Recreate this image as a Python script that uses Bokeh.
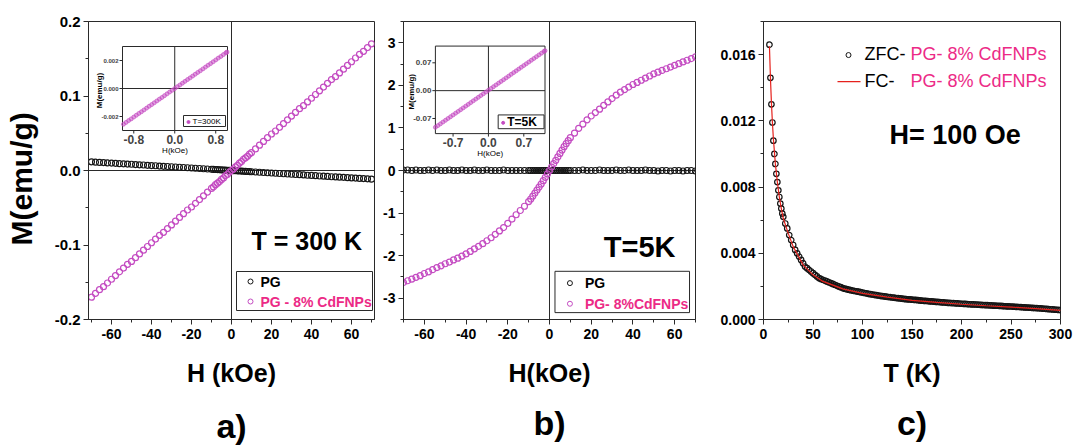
import math
from bokeh.plotting import figure
from bokeh.layouts import row
from bokeh.models import Range1d, FixedTicker, PrintfTickFormatter, Span, Label, LinearAxis
from bokeh.embed import file_html
from bokeh.resources import INLINE

FONT = "Liberation Sans"
FRAME = "#2a2a2a"
PINK = "#c44cc2"
PINK_TXT = "#ec2a86"
RED = "#e5211c"
BLK = "#151515"

# ---------------- data ----------------
field_kOe = [-70, -68, -66, -64, -62, -60, -58, -56, -54, -52,
             -50, -48, -46, -44, -42, -40, -38, -36, -34, -32,
             -30, -28, -26, -24, -22, -20, -18, -16, -14, -12,
             -10, -9, -8, -7, -6, -5, -4, -3, -2, -1, 0, 1, 2, 3, 4, 5, 6, 7, 8, 9, 10,
             12, 14, 16, 18, 20, 22, 24, 26, 28, 30,
             32, 34, 36, 38, 40, 42, 44, 46, 48, 50,
             52, 54, 56, 58, 60, 62, 64, 66, 68, 70]

m300_pg = [0.0116, 0.0112, 0.0109, 0.0106, 0.0102, 0.0099, 0.0096, 0.0092, 0.0089, 0.0086,
           0.0083, 0.0079, 0.0076, 0.0073, 0.0069, 0.0066, 0.0063, 0.0059, 0.0056, 0.0053,
           0.0050, 0.0046, 0.0043, 0.0040, 0.0036, 0.0033, 0.0030, 0.0026, 0.0023, 0.0020,
           0.0017, 0.0015, 0.0013, 0.0012, 0.0010, 0.0008, 0.0007, 0.0005, 0.0003, 0.0002, 0.0,
           -0.0002, -0.0003, -0.0005, -0.0007, -0.0008, -0.0010, -0.0012, -0.0013, -0.0015, -0.0017,
           -0.0020, -0.0023, -0.0026, -0.0030, -0.0033, -0.0036, -0.0040, -0.0043, -0.0046, -0.0050,
           -0.0053, -0.0056, -0.0059, -0.0063, -0.0066, -0.0069, -0.0073, -0.0076, -0.0079, -0.0083,
           -0.0086, -0.0089, -0.0092, -0.0096, -0.0099, -0.0102, -0.0106, -0.0109, -0.0112, -0.0116]

m300_cd = [-0.170, -0.165, -0.160, -0.156, -0.151, -0.146, -0.141, -0.136, -0.131, -0.126,
           -0.122, -0.117, -0.112, -0.107, -0.102, -0.097, -0.092, -0.087, -0.083, -0.078,
           -0.073, -0.068, -0.063, -0.058, -0.053, -0.049, -0.044, -0.039, -0.034, -0.029,
           -0.024, -0.022, -0.019, -0.017, -0.015, -0.012, -0.010, -0.007, -0.005, -0.002, 0.000,
           0.002, 0.005, 0.007, 0.010, 0.012, 0.015, 0.017, 0.019, 0.022, 0.024,
           0.029, 0.034, 0.039, 0.044, 0.049, 0.053, 0.058, 0.063, 0.068, 0.073,
           0.078, 0.083, 0.087, 0.092, 0.097, 0.102, 0.107, 0.112, 0.117, 0.122,
           0.126, 0.131, 0.136, 0.141, 0.146, 0.151, 0.156, 0.160, 0.165, 0.170]

m5_pg = [0.01, 0.01, 0.0, 0.01, 0.0, 0.0, 0.01, 0.0, 0.01, 0.0,
         0.0, 0.01, 0.0, 0.0, 0.01, 0.0, 0.0, 0.01, 0.0, 0.0,
         0.01, 0.0, 0.0, 0.0, 0.01, 0.0, 0.0, 0.0, 0.0, 0.0,
         0.0, 0.0, 0.0, 0.0, 0.0, 0.0, 0.0, 0.0, 0.0, 0.0, 0.0,
         0.0, 0.0, 0.0, 0.0, 0.0, 0.0, 0.0, 0.0, 0.0, 0.0,
         0.0, 0.0, 0.01, 0.0, 0.0, 0.0, 0.01, 0.0, 0.0, 0.0,
         0.01, 0.0, 0.0, 0.01, 0.0, 0.0, 0.0, 0.01, 0.0, 0.0,
         -0.01, 0.0, 0.0, -0.01, 0.0, 0.0, -0.01, 0.0, 0.0, -0.01]

m5_cd = [-2.63, -2.59, -2.55, -2.51, -2.47, -2.42, -2.38, -2.33, -2.28, -2.24,
         -2.19, -2.15, -2.10, -2.06, -2.01, -1.96, -1.90, -1.84, -1.78, -1.72,
         -1.65, -1.58, -1.50, -1.42, -1.34, -1.24, -1.14, -1.04, -0.94, -0.84,
         -0.73, -0.67, -0.60, -0.53, -0.46, -0.39, -0.32, -0.24, -0.16, -0.08, 0.0,
         0.08, 0.16, 0.24, 0.32, 0.40, 0.48, 0.56, 0.63, 0.70, 0.77,
         0.88, 0.99, 1.09, 1.19, 1.28, 1.36, 1.44, 1.53, 1.61, 1.69,
         1.77, 1.84, 1.90, 1.96, 2.02, 2.07, 2.12, 2.17, 2.22, 2.27,
         2.31, 2.35, 2.39, 2.43, 2.47, 2.51, 2.55, 2.59, 2.63, 2.67]

inset300_h = [-1.00, -0.95, -0.90, -0.85, -0.80, -0.75, -0.70, -0.65, -0.60, -0.55,
              -0.50, -0.45, -0.40, -0.35, -0.30, -0.25, -0.20, -0.15, -0.10, -0.05, 0.00,
              0.05, 0.10, 0.15, 0.20, 0.25, 0.30, 0.35, 0.40, 0.45, 0.50,
              0.55, 0.60, 0.65, 0.70, 0.75, 0.80, 0.85, 0.90, 0.95, 1.00, 1.02]
inset300_m = [-0.00255, -0.00242, -0.00229, -0.00217, -0.00204, -0.00191, -0.00178, -0.00166, -0.00153, -0.00140,
              -0.00127, -0.00115, -0.00102, -0.00089, -0.00076, -0.00064, -0.00051, -0.00038, -0.00025, -0.00013, 0.0,
              0.00013, 0.00025, 0.00038, 0.00051, 0.00064, 0.00076, 0.00089, 0.00102, 0.00115, 0.00127,
              0.00140, 0.00153, 0.00166, 0.00178, 0.00191, 0.00204, 0.00217, 0.00229, 0.00242, 0.00255, 0.00260]

inset5_h = [-1.05, -1.00, -0.95, -0.90, -0.85, -0.80, -0.75, -0.70, -0.65, -0.60, -0.55,
            -0.50, -0.45, -0.40, -0.35, -0.30, -0.25, -0.20, -0.15, -0.10, -0.05, 0.00,
            0.05, 0.10, 0.15, 0.20, 0.25, 0.30, 0.35, 0.40, 0.45, 0.50,
            0.55, 0.60, 0.65, 0.70, 0.75, 0.80, 0.85, 0.90, 0.95, 1.00, 1.05, 1.10, 1.12]
inset5_m = [-0.0922, -0.0878, -0.0834, -0.0789, -0.0745, -0.0700, -0.0656, -0.0612, -0.0567, -0.0523, -0.0478,
            -0.0434, -0.0390, -0.0345, -0.0301, -0.0256, -0.0212, -0.0168, -0.0123, -0.0079, -0.0034, 0.0010,
            0.0054, 0.0099, 0.0143, 0.0188, 0.0232, 0.0276, 0.0321, 0.0365, 0.0410, 0.0454,
            0.0498, 0.0543, 0.0587, 0.0632, 0.0676, 0.0720, 0.0765, 0.0809, 0.0854, 0.0898, 0.0942, 0.0987, 0.1005]

temp_zfc = [6, 7, 8, 9, 10, 11, 12, 13, 14, 15, 16, 17, 18, 19,
            20, 22, 24, 26, 28, 30, 32, 34, 36, 38,
            40, 42, 44, 46, 48, 50, 52, 54, 56, 58,
            60, 62, 64, 66, 68, 70, 72, 74, 76, 78,
            80, 82, 84, 86, 88, 90, 92, 94, 96, 98,
            100, 102, 104, 106, 108, 110, 112, 114, 116, 118,
            120, 122, 124, 126, 128, 130, 132, 134, 136, 138,
            140, 142, 144, 146, 148, 150, 152, 154, 156, 158,
            160, 162, 164, 166, 168, 170, 172, 174, 176, 178,
            180, 182, 184, 186, 188, 190, 192, 194, 196, 198,
            200, 202, 204, 206, 208, 210, 212, 214, 216, 218,
            220, 222, 224, 226, 228, 230, 232, 234, 236, 238,
            240, 242, 244, 246, 248, 250, 252, 254, 256, 258,
            260, 262, 264, 266, 268, 270, 272, 274, 276, 278,
            280, 282, 284, 286, 288, 290, 292, 294, 296, 298,
            300]
m_zfc = [0.0166, 0.0146, 0.0130, 0.0119, 0.0108, 0.0100, 0.0094, 0.0088, 0.0083, 0.0078, 0.0074, 0.0070, 0.0067, 0.0064,
         0.0062, 0.0058, 0.0055, 0.0051, 0.0048, 0.0045, 0.0042, 0.0040, 0.0038, 0.0036,
         0.0034, 0.0032, 0.0031, 0.0030, 0.0029, 0.0028, 0.0027, 0.0026, 0.0025, 0.00245,
         0.0024, 0.00235, 0.0023, 0.00225, 0.0022, 0.00215, 0.0021, 0.00205, 0.0020, 0.00195,
         0.0019, 0.00186, 0.00183, 0.0018, 0.00177, 0.00175, 0.00172, 0.0017, 0.00168, 0.00165,
         0.00163, 0.0016, 0.00158, 0.00155, 0.00153, 0.00151, 0.00149, 0.00147, 0.00145, 0.00143,
         0.00141, 0.0014, 0.00138, 0.00136, 0.00135, 0.00133, 0.00132, 0.0013, 0.00129, 0.00127,
         0.00126, 0.00124, 0.00123, 0.00122, 0.00121, 0.0012, 0.00119, 0.00118, 0.00117, 0.00115,
         0.00114, 0.00113, 0.00112, 0.00111, 0.0011, 0.00109, 0.00108, 0.00107, 0.00106, 0.00105,
         0.00104, 0.00103, 0.00102, 0.00101, 0.001, 0.000995, 0.00099, 0.00098, 0.00097, 0.00096,
         0.00095, 0.000945, 0.00094, 0.00093, 0.00092, 0.000915, 0.00091, 0.000905, 0.0009, 0.00089,
         0.00088, 0.000875, 0.00087, 0.000865, 0.00086, 0.00085, 0.00084, 0.000835, 0.00083, 0.000825,
         0.00082, 0.00081, 0.0008, 0.000795, 0.00079, 0.000785, 0.00078, 0.00077, 0.00076, 0.000755,
         0.00075, 0.00074, 0.00073, 0.000725, 0.00072, 0.00071, 0.0007, 0.000695, 0.00069, 0.00068,
         0.00067, 0.00066, 0.00065, 0.00064, 0.00063, 0.00062, 0.00061, 0.0006, 0.00059, 0.00058,
         0.00057]

temp_fc = [6, 7, 8, 9, 10, 12, 14, 16, 18, 20, 25, 30, 40, 50, 60, 80, 100, 125, 150, 175, 200, 225, 250, 275, 300]
m_fc = [0.0165, 0.0146, 0.0131, 0.0119, 0.0109, 0.0094, 0.0083, 0.0074, 0.0067, 0.0061, 0.0052, 0.0044, 0.0033, 0.0027,
        0.0023, 0.00185, 0.00158, 0.00135, 0.00116, 0.00103, 0.00092, 0.00083, 0.00075, 0.00066, 0.00055]

# ticks
h_major = [-60, -40, -20, 0, 20, 40, 60]
h_minor = [-70, -50, -30, -10, 10, 30, 50, 70]
ya_major = [-0.2, -0.1, 0.0, 0.1, 0.2]
ya_minor = [-0.15, -0.05, 0.05, 0.15]
yb_major = [-3, -2, -1, 0, 1, 2, 3]
yb_minor = [-3.5, -2.5, -1.5, -0.5, 0.5, 1.5, 2.5, 3.5]
tc_major = [0, 50, 100, 150, 200, 250, 300]
tc_minor = [25, 75, 125, 175, 225, 275]
yc_major = [0.0, 0.004, 0.008, 0.012, 0.016]
yc_minor = [0.002, 0.006, 0.010, 0.014, 0.018]
ia_xticks = [-0.8, 0.0, 0.8]
ia_xlabels = ["-0.8", "0.0", "0.8"]
ia_yticks = [-0.002, 0.0, 0.002]
ia_ylabels = ["-0.002", "0.000", "0.002"]
ib_xticks = [-0.7, 0.0, 0.7]
ib_xlabels = ["-0.7", "0.0", "0.7"]
ib_yticks = [-0.07, 0.0, 0.07]
ib_ylabels = ["-0.07", "0.00", "0.07"]

# ---------------- layout constants (page pixels) ----------------
H = 447


class Mapper:
    def __init__(self, frame, xr, yr):
        self.fl, self.fr, self.ft, self.fb = frame
        self.xr, self.yr = xr, yr

    def x(self, px):
        return self.xr[0] + (px - self.fl) * (self.xr[1] - self.xr[0]) / (self.fr - self.fl)

    def y(self, py):
        return self.yr[0] + (self.fb - py) * (self.yr[1] - self.yr[0]) / (self.fb - self.ft)


def inset_ranges(frame, box, xlim, ylim):
    fl, fr, ft, fb = frame
    bl, br, bt, bb = box
    sx = (xlim[1] - xlim[0]) / (br - bl)
    sy = (ylim[1] - ylim[0]) / (bb - bt)
    return ((xlim[0] - (bl - fl) * sx, xlim[1] + (fr - br) * sx),
            (ylim[0] - (fb - bb) * sy, ylim[1] + (bt - ft) * sy))


def make_panel(width, x0, frame, xr, yr, xt, xm, yt, ym, xfmt, yfmt, xlabel):
    fl, fr, ft, fb = frame
    p = figure(width=width, height=H, x_range=Range1d(*xr), y_range=Range1d(*yr),
               output_backend="svg", toolbar_location=None,
               min_border_left=fl - x0, min_border_right=x0 + width - fr,
               min_border_top=ft, min_border_bottom=H - fb)
    p.grid.visible = False
    p.outline_line_color = FRAME
    p.outline_line_width = 1
    p.xaxis.ticker = FixedTicker(ticks=xt, minor_ticks=xm)
    p.yaxis.ticker = FixedTicker(ticks=yt, minor_ticks=ym)
    p.xaxis.formatter = PrintfTickFormatter(format=xfmt)
    p.yaxis.formatter = PrintfTickFormatter(format=yfmt)
    for ax in list(p.xaxis) + list(p.yaxis):
        ax.axis_line_color = FRAME
        ax.major_tick_line_color = FRAME
        ax.minor_tick_line_color = FRAME
        ax.major_tick_in = 0
        ax.major_tick_out = 5
        ax.minor_tick_in = 0
        ax.minor_tick_out = 3
        ax.major_label_text_font = FONT
        ax.major_label_text_font_style = "bold"
        ax.major_label_text_font_size = "14px"
        ax.major_label_text_color = "black"
        ax.axis_label_text_font = FONT
        ax.axis_label_text_font_style = "bold"
        ax.axis_label_text_color = "black"
    p.xaxis.major_label_standoff = 4
    p.yaxis.major_label_standoff = 3
    p.xaxis.axis_label = xlabel
    p.xaxis.axis_label_text_font_size = "25px"
    p.xaxis.axis_label_standoff = 17
    return p


def add_letter(p, letter, standoff):
    # panel letter drawn as the label of a tick-less axis under the x axis
    ax = LinearAxis(ticker=FixedTicker(ticks=[], minor_ticks=[]), axis_label=letter,
                    axis_line_color=None, major_tick_out=0, major_tick_in=0,
                    minor_tick_out=0, minor_tick_in=0, major_label_standoff=0,
                    axis_label_standoff=standoff, axis_label_text_font=FONT,
                    axis_label_text_font_size="34px", axis_label_text_font_style="bold",
                    axis_label_text_color="black")
    p.add_layout(ax, "below")


def lab(p, m, px, py, text, size, color="black", bold=True, align="left", angle=0, rng="default"):
    p.add_layout(Label(x=m.x(px), y=m.y(py), text=text, text_font=FONT, text_font_size=size,
                       text_font_style="bold" if bold else "normal", text_color=color,
                       text_align=align, text_baseline="middle", angle=angle,
                       x_range_name=rng, y_range_name=rng))


def draw_inset(p, name, frame, box, xlim, ylim, hx, my, xt, xl, yt, yl, tick_font, ytick_font,
               ylab_x, leg_box, leg_text, leg_font, leg_bold):
    xr, yr = inset_ranges(frame, box, xlim, ylim)
    p.extra_x_ranges[name] = Range1d(*xr)
    p.extra_y_ranges[name] = Range1d(*yr)
    m = Mapper(frame, xr, yr)
    bl, br, bt, bb = box
    kw = dict(x_range_name=name, y_range_name=name)
    p.quad(left=[xlim[0]], right=[xlim[1]], bottom=[ylim[0]], top=[ylim[1]],
           fill_color="white", line_color=FRAME, line_width=1, **kw)
    p.segment(x0=[0, xlim[0]], y0=[ylim[0], 0], x1=[0, xlim[1]], y1=[ylim[1], 0],
              line_color=FRAME, line_width=1, **kw)
    p.scatter(hx, my, marker="circle", size=4, fill_color=PINK, fill_alpha=0.55,
              line_color=PINK, line_alpha=0.8, line_width=0.8, **kw)
    # ticks
    p.segment(x0=xt, y0=[ylim[0]] * len(xt), x1=xt, y1=[m.y(bb + 3)] * len(xt),
              line_color=FRAME, line_width=1, **kw)
    p.segment(x0=[xlim[0]] * len(yt), y0=yt, x1=[m.x(bl - 3)] * len(yt), y1=yt,
              line_color=FRAME, line_width=1, **kw)
    for v, t in zip(xt, xl):
        p.add_layout(Label(x=v, y=ylim[0], text=t, text_font=FONT, text_font_size=tick_font,
                           text_font_style="bold", text_align="center", text_baseline="top",
                           y_offset=-4, **kw))
    for v, t in zip(yt, yl):
        p.add_layout(Label(x=xlim[0], y=v, text=t, text_font=FONT, text_font_size=ytick_font,
                           text_font_style="bold", text_align="right", text_baseline="middle",
                           x_offset=-4, **kw))
    lab(p, m, ylab_x, (bt + bb) / 2 + 2, "M(emu/g)", "8px", angle=math.pi / 2, align="center", rng=name)
    lab(p, m, (bl + br) / 2, bb + 20, "H(kOe)", "8px", bold=False, align="center", rng=name)
    # inset legend
    lx0, lx1, ly0, ly1 = leg_box
    p.quad(left=[m.x(lx0)], right=[m.x(lx1)], top=[m.y(ly0)], bottom=[m.y(ly1)],
           fill_color="white", line_color=FRAME, line_width=1, **kw)
    p.scatter([m.x(lx0 + 5)], [m.y((ly0 + ly1) / 2 + 1)], marker="circle", size=3,
              fill_color=PINK, line_color=PINK, **kw)
    lab(p, m, lx0 + 9, (ly0 + ly1) / 2, leg_text, leg_font, bold=leg_bold, rng=name)


# ---------------- panel a ----------------
FA = (88, 374, 21, 319)
xa, ya = (-71.5, 71.5), (-0.2, 0.2)
pa = make_panel(380, 0, FA, xa, ya, h_major, h_minor, ya_major, ya_minor, "%d", "%.1f", "H (kOe)")
pa.yaxis.major_label_text_font_size = "15px"
pa.yaxis.axis_label = "M(emu/g)\u00a0\u00a0"
pa.yaxis.axis_label_text_font_size = "30px"
pa.yaxis.axis_label_standoff = 14
ma = Mapper(FA, xa, ya)
pa.add_layout(Span(location=0, dimension="height", line_color=FRAME, line_width=1, level="underlay"))
pa.add_layout(Span(location=0, dimension="width", line_color=FRAME, line_width=1, level="underlay"))
pa.scatter(field_kOe, m300_pg, marker="circle", size=6, fill_color=None, line_color=BLK, line_width=1.1)
pa.scatter(field_kOe, m300_cd, marker="circle", size=6, fill_color=None, line_color=PINK, line_width=1.2)
draw_inset(pa, "ia", FA, (122, 227, 46, 130), (-1.02, 1.03), (-0.003, 0.003), inset300_h, inset300_m,
           ia_xticks, ia_xlabels, ia_yticks, ia_ylabels, "12px", "6px", 99,
           (183, 225, 115, 126), "T=300K", "8px", False)
# legend a
pa.quad(left=[ma.x(236)], right=[ma.x(372)], top=[ma.y(271)], bottom=[ma.y(310)],
        fill_color="white", line_color=FRAME, line_width=1)
pa.scatter([ma.x(250)], [ma.y(281)], marker="circle", size=5, fill_color=None, line_color=BLK)
pa.scatter([ma.x(250)], [ma.y(301)], marker="circle", size=5, fill_color=None, line_color=PINK)
lab(pa, ma, 260, 281, "PG", "14px")
lab(pa, ma, 260, 301, "PG - 8% CdFNPs", "14px", color=PINK_TXT)
lab(pa, ma, 251, 240, "T = 300 K", "25px")
add_letter(pa, "a)", 17)

# ---------------- panel b ----------------
FB = (402, 695, 19, 322)
xb, yb = (-70, 70), (-3.5, 3.5)
pb = make_panel(335, 380, FB, xb, yb, h_major, h_minor, yb_major, yb_minor, "%d", "%d", "H(kOe)")
mb = Mapper(FB, xb, yb)
pb.add_layout(Span(location=0, dimension="height", line_color=FRAME, line_width=1, level="underlay"))
pb.add_layout(Span(location=0, dimension="width", line_color=FRAME, line_width=1, level="underlay"))
pb.scatter(field_kOe, m5_pg, marker="circle", size=6, fill_color=None, line_color=BLK, line_width=1.1)
pb.scatter(field_kOe, m5_cd, marker="circle", size=6, fill_color=None, line_color=PINK, line_width=1.2)
draw_inset(pb, "ib", FB, (434, 544, 44, 133), (-1.05, 1.12), (-0.108, 0.112), inset5_h, inset5_m,
           ib_xticks, ib_xlabels, ib_yticks, ib_ylabels, "12px", "8px", 410,
           (497, 543, 114, 128), "T=5K", "12px", True)
pb.quad(left=[mb.x(554)], right=[mb.x(689)], top=[mb.y(273)], bottom=[mb.y(315)],
        fill_color="white", line_color=FRAME, line_width=1)
pb.scatter([mb.x(569)], [mb.y(285)], marker="circle", size=5, fill_color=None, line_color=BLK)
pb.scatter([mb.x(569)], [mb.y(306)], marker="circle", size=5, fill_color=None, line_color=PINK)
lab(pb, mb, 584, 285, "PG", "14px")
lab(pb, mb, 584, 306, "PG- 8%CdFNPs", "14px", color=PINK_TXT)
lab(pb, mb, 603, 248, "T=5K", "29px")
add_letter(pb, "b)", 14)

# ---------------- panel c ----------------
FC = (763, 1060, 20, 322)
xc, yc = (0, 300), (0, 0.018)
pc = make_panel(358, 715, FC, xc, yc, tc_major, tc_minor, yc_major, yc_minor, "%d", "%.3f", "T (K)")
mc = Mapper(FC, xc, yc)
pc.scatter(temp_zfc, m_zfc, marker="circle", size=5.5, fill_color=None, line_color=BLK, line_width=1.2)
pc.line(temp_fc, m_fc, line_color=RED, line_width=1.2)
pc.scatter([mc.x(848)], [mc.y(54)], marker="circle", size=5, fill_color=None, line_color=BLK)
pc.line([mc.x(837), mc.x(860)], [mc.y(81), mc.y(81)], line_color=RED, line_width=1.2)
lab(pc, mc, 864, 53, "ZFC-", "18px", bold=False)
lab(pc, mc, 910, 53, "PG- 8% CdFNPs", "18px", color=PINK_TXT, bold=False)
lab(pc, mc, 864, 80, "FC-", "18px", bold=False)
lab(pc, mc, 910, 80, "PG- 8% CdFNPs", "18px", color=PINK_TXT, bold=False)
lab(pc, mc, 889, 135, "H= 100 Oe", "27px")
add_letter(pc, "c)", 14)

layout = row(pa, pb, pc)
open("out.html", "w").write(file_html(layout, INLINE))
